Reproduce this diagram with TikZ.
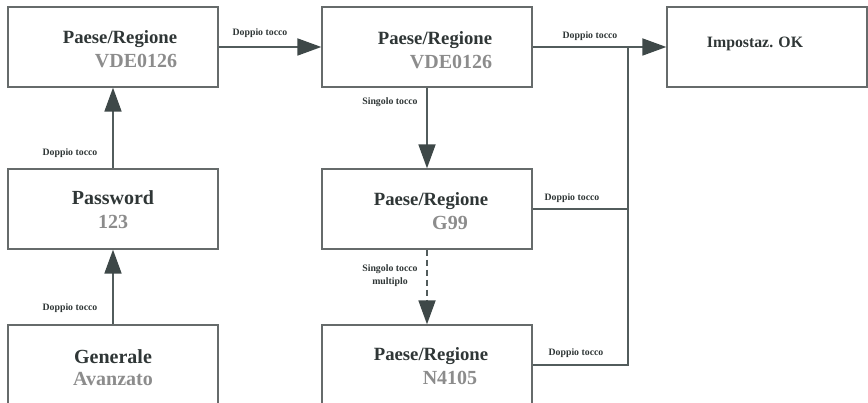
\documentclass[tikz,border=0pt]{standalone}
\usepackage{fontspec}
\setmainfont{Liberation Serif}
\usetikzlibrary{arrows.meta,positioning}
\definecolor{boxline}{HTML}{666B6B}
\definecolor{connline}{HTML}{525C5C}
\definecolor{tipfill}{HTML}{3E4848}
\definecolor{ttl}{HTML}{2F3636}
\definecolor{val}{HTML}{8C8C8C}
\newcommand{\paese}{{\fontsize{18.7}{23}\selectfont Paese/Regione}}

\begin{document}
\begin{tikzpicture}[x=1pt, y=-1pt, >={Triangle[length=24pt,width=17pt,color=tipfill]},
    box/.style={draw=boxline, line width=1.3pt, minimum width=210pt, minimum height=80pt, inner sep=0pt},
    txt/.style={inner sep=0pt, text=ttl, font=\fontsize{20}{24}\selectfont\bfseries},
    lbl/.style={inner sep=0pt, text=ttl, align=center, font=\fontsize{9.8}{13}\selectfont\bfseries},
    conn/.style={draw=connline, line width=1.8pt}]
    \useasboundingbox (0,0) rectangle (868,403);
    % boxes
    \node[box] (pr1) at (113,47) {};
    \node[box] (pw) at (113,209) {};
    \node[box] (gen) at (113,365) {};
    \node[box] (pr2) at (427,47) {};
    \node[box] (pr3) at (427,209) {};
    \node[box] (pr4) at (427,365) {};
    \node[box, minimum width=200pt] (ok) at (767,47) {};
    % box texts
    \node[txt, align=right] (pr1-t) at (120,49.5) {\paese\\\textcolor{val}{VDE0126}};
    \node[txt, align=right] (pr2-t) at (435,50) {\paese\\\textcolor{val}{VDE0126}};
    \node[txt, align=center] (pr3-t) at (431,211.5) {\paese\\\hspace*{38pt}\textcolor{val}{G99}};
    \node[txt, align=center] (pr4-t) at (431,366.5) {\paese\\\hspace*{38pt}\textcolor{val}{N4105}};
    \node[txt, align=center] (pw-t) at (113,210) {Password\\\textcolor{val}{123}};
    \node[txt, align=center, font=\fontsize{20}{22}\selectfont\bfseries] (gen-t) at (113,367.5) {Generale\\\textcolor{val}{Avanzato}};
    \node[txt, font=\fontsize{15.8}{19}\selectfont\bfseries] (ok-t) at (755,44) {Impostaz. OK};
    % connectors
    \coordinate (join) at (628,47);
    \draw[conn,->] (pr1) -- (pr2);
    \draw[conn,->] (pr2) -- (ok);
    \draw[conn,->] (pr2) -- (pr3);
    \draw[conn,->,dash pattern=on 6pt off 4pt] (pr3) -- (pr4);
    \draw[conn] (pr3.east) -| (join);
    \draw[conn] (pr4.east) -| (join);
    \draw[conn,->] (gen) -- (pw);
    \draw[conn,->] (pw) -- (pr1);
    % labels
    \node[lbl] (l-pr1) at (260,33) {Doppio tocco};
    \node[lbl] (l-pr2) at (590,36) {Doppio tocco};
    \node[lbl] (l-sing) at (390,102) {Singolo tocco};
    \node[lbl] (l-pr3) at (572,198) {Doppio tocco};
    \node[lbl] (l-pr4) at (576,353) {Doppio tocco};
    \node[lbl] (l-multi) at (390,276) {Singolo tocco\\multiplo};
    \node[lbl] (l-pw) at (70,153) {Doppio tocco};
    \node[lbl] (l-gen) at (70,308) {Doppio tocco};
\end{tikzpicture}
\end{document}
